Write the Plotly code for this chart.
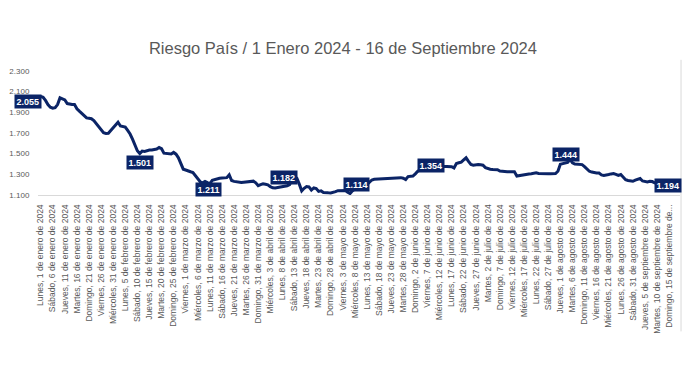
import plotly.graph_objects as go

# Riesgo País, daily values (1 Jan 2024 - 16 Sep 2024)
riesgo_pais = [
    2055, 2045, 2015, 1975, 1950, 1940, 1945, 1975, 2040, 2030,
    2020, 1985, 1978, 1976, 1975, 1935, 1912, 1890, 1862, 1846,
    1842, 1838, 1820, 1790, 1760, 1725, 1702, 1695, 1698, 1725,
    1752, 1778, 1805, 1768, 1762, 1758, 1725, 1690, 1640, 1585,
    1528, 1501, 1525, 1522, 1530, 1535, 1536, 1538, 1545, 1560,
    1548, 1505, 1500, 1498, 1497, 1512, 1495, 1460, 1400, 1350,
    1342, 1330, 1325, 1318, 1290, 1255, 1228, 1218, 1232, 1220,
    1211, 1242, 1250, 1258, 1262, 1265, 1264, 1268, 1296, 1240,
    1232, 1228, 1226, 1220, 1224, 1228, 1230, 1232, 1234, 1218,
    1190, 1200, 1208, 1204, 1198, 1180, 1170, 1168, 1172, 1178,
    1185, 1182, 1190, 1200, 1250, 1278, 1262, 1205, 1140, 1165,
    1182, 1178, 1148, 1168, 1162, 1135, 1140, 1125, 1120, 1121,
    1120, 1124, 1132, 1142, 1144, 1142, 1143, 1128, 1114, 1140,
    1160, 1170, 1180, 1188, 1195, 1201, 1225, 1245, 1252, 1254,
    1256, 1255, 1257, 1256, 1259, 1260, 1262, 1264, 1272, 1268,
    1262, 1250, 1278, 1284, 1283, 1305, 1330, 1342, 1350, 1352,
    1354, 1358, 1362, 1365, 1368, 1372, 1374, 1376, 1375, 1377,
    1374, 1362, 1405, 1412, 1418, 1440, 1460, 1425, 1395, 1388,
    1392, 1394, 1392, 1388, 1365, 1356, 1350, 1346, 1347, 1345,
    1332, 1328, 1326, 1324, 1325, 1323, 1324, 1284, 1288, 1292,
    1303, 1305, 1304, 1306, 1308, 1314, 1308, 1306, 1305, 1304,
    1305, 1306, 1305, 1308, 1330, 1398, 1404, 1410, 1415, 1444,
    1412, 1400, 1396, 1395, 1394, 1375, 1350, 1330, 1322, 1316,
    1314, 1313, 1295, 1290, 1291, 1298, 1304, 1308, 1300, 1290,
    1298, 1270, 1248, 1240, 1236, 1233, 1244, 1252, 1259, 1236,
    1229, 1227, 1232, 1230, 1217, 1215, 1214, 1210, 1205, 1200,
    1197, 1194,
]

# Category tick labels (every 5th point)
tick_labels = [
    "Lunes, 1 de enero de 2024", "Sábado, 6 de enero de 2024",
    "Jueves, 11 de enero de 2024", "Martes, 16 de enero de 2024",
    "Domingo, 21 de enero de 2024", "Viernes, 26 de enero de 2024",
    "Miércoles, 31 de enero de 2024", "Lunes, 5 de febrero de 2024",
    "Sábado, 10 de febrero de 2024", "Jueves, 15 de febrero de 2024",
    "Martes, 20 de febrero de 2024", "Domingo, 25 de febrero de 2024",
    "Viernes, 1 de marzo de 2024", "Miércoles, 6 de marzo de 2024",
    "Lunes, 11 de marzo de 2024", "Sábado, 16 de marzo de 2024",
    "Jueves, 21 de marzo de 2024", "Martes, 26 de marzo de 2024",
    "Domingo, 31 de marzo de 2024", "Miércoles, 3 de abril de 2024",
    "Lunes, 8 de abril de 2024", "Sábado, 13 de abril de 2024",
    "Jueves, 18 de abril de 2024", "Martes, 23 de abril de 2024",
    "Domingo, 28 de abril de 2024", "Viernes, 3 de mayo de 2024",
    "Miércoles, 8 de mayo de 2024", "Lunes, 13 de mayo de 2024",
    "Sábado, 18 de mayo de 2024", "Jueves, 23 de mayo de 2024",
    "Martes, 28 de mayo de 2024", "Domingo, 2 de junio de 2024",
    "Viernes, 7 de junio de 2024", "Miércoles, 12 de junio de 2024",
    "Lunes, 17 de junio de 2024", "Sábado, 22 de junio de 2024",
    "Jueves, 27 de junio de 2024", "Martes, 2 de julio de 2024",
    "Domingo, 7 de julio de 2024", "Viernes, 12 de julio de 2024",
    "Miércoles, 17 de julio de 2024", "Lunes, 22 de julio de 2024",
    "Sábado, 27 de julio de 2024", "Jueves, 1 de agosto de 2024",
    "Martes, 6 de agosto de 2024", "Domingo, 11 de agosto de 2024",
    "Viernes, 16 de agosto de 2024", "Miércoles, 21 de agosto de 2024",
    "Lunes, 26 de agosto de 2024", "Sábado, 31 de agosto de 2024",
    "Jueves, 5 de septiembre de 2024", "Martes, 10 de septiembre de 2024",
    "Domingo, 15 de septiembre de...",
]

y_ticks = [1100, 1300, 1500, 1700, 1900, 2100, 2300]

# Labelled points (index into series)
label_points = [0, 41, 70, 101, 128, 160, 219, 261]
label_shifts = [(-13, -5), (0, -9), (-1, -6), (-1, 9), (6, 9), (4, 3), (-4, 5), (-4, 0)]

NAVY = "#0b2466"
GRAY = "#595959"

x = list(range(len(riesgo_pais)))

fig = go.Figure()
fig.add_trace(go.Scatter(
    x=x, y=riesgo_pais, mode="lines",
    line=dict(color=NAVY, width=3),
    hoverinfo="skip", showlegend=False,
))

for idx, (dx, dy) in zip(label_points, label_shifts):
    v = riesgo_pais[idx]
    fig.add_annotation(
        x=idx, y=v, text="<b>" + f"{v:,}".replace(",", ".") + "</b>",
        showarrow=False, xshift=dx, yshift=dy,
        bgcolor=NAVY, borderpad=1.5,
        font=dict(family="Liberation Sans, Arial, sans-serif", size=9, color="white"),
    )

fig.add_shape(type="line", xref="paper", yref="paper", layer="below",
              x0=1.0016, x1=1.0016, y0=1.09, y1=-1.1,
              line=dict(color="#d9d9d9", width=1))

fig.update_layout(
    width=690, height=388,
    paper_bgcolor="white", plot_bgcolor="white",
    margin=dict(l=38, r=10, t=71, b=192.5),
    separators=",.",
    title=dict(
        text="Riesgo País / 1 Enero 2024 - 16 de Septiembre 2024",
        x=0.497, xanchor="center", y=1 - 48 / 388, yanchor="middle",
        font=dict(family="Liberation Sans, Arial, sans-serif", size=16.5, color=GRAY),
    ),
    xaxis=dict(
        range=[-1.1, 264.5],
        tickmode="array",
        tickvals=x[::5][:len(tick_labels)],
        ticktext=tick_labels,
        tickangle=-90,
        ticks="outside", ticklen=5, tickcolor="rgba(0,0,0,0)",
        tickfont=dict(family="Liberation Sans Narrow, Liberation Sans, Arial, sans-serif", size=8.5, color=GRAY),
        showgrid=False, zeroline=False,
        showline=True, linecolor="#d9d9d9", linewidth=1,
    ),
    yaxis=dict(
        range=[1100, 2300],
        tickmode="array", tickvals=y_ticks,
        tickformat=",.0f",
        ticks="outside", ticklen=6, tickcolor="rgba(0,0,0,0)",
        tickfont=dict(family="Liberation Sans, Arial, sans-serif", size=8, color=GRAY),
        showgrid=False, zeroline=False, showline=False,
    ),
)

fig.write_html("out.html", config={"displayModeBar": False},
               post_script="document.body.style.margin='0';")
